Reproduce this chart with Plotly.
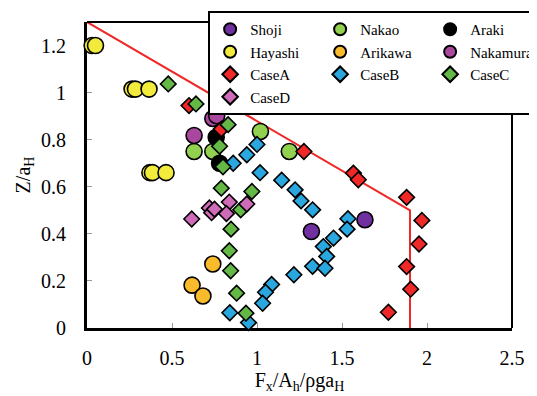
import plotly.graph_objects as go

# ---- data ----
shoji_x = [1.32, 1.635]
shoji_y = [0.41, 0.46]

nakao_x = [0.63, 0.74, 1.02, 1.19]
nakao_y = [0.75, 0.75, 0.835, 0.75]

araki_x = [0.76, 0.78]
araki_y = [0.81, 0.70]

hayashi_x = [0.03, 0.05, 0.265, 0.285, 0.365, 0.37, 0.385, 0.465]
hayashi_y = [1.2, 1.2, 1.015, 1.015, 1.015, 0.66, 0.66, 0.66]

arikawa_x = [0.74, 0.618, 0.682]
arikawa_y = [0.272, 0.182, 0.136]

nakamura_x = [0.63, 0.74, 0.763]
nakamura_y = [0.818, 0.89, 0.902]

caseA_x = [0.60, 0.79, 1.276, 1.567, 1.596, 1.88, 1.97, 1.953, 1.88, 1.904, 1.773]
caseA_y = [0.945, 0.845, 0.75, 0.658, 0.63, 0.555, 0.457, 0.357, 0.261, 0.165, 0.067]

caseB_x = [0.86, 0.94, 1.0, 1.018, 1.145, 1.224, 1.259, 1.327, 1.535, 1.53, 1.45,
           1.39, 1.41, 1.327, 1.40, 1.217, 1.086, 1.05, 1.033, 0.84, 0.95]
caseB_y = [0.70, 0.736, 0.78, 0.66, 0.628, 0.587, 0.54, 0.502, 0.464, 0.42, 0.382,
           0.346, 0.304, 0.262, 0.254, 0.226, 0.185, 0.152, 0.105, 0.065, 0.023]

caseC_x = [0.478, 0.641, 0.83, 0.78, 0.80, 0.79, 0.97, 0.904, 0.847, 0.837, 0.845, 0.88, 0.935]
caseC_y = [1.037, 0.952, 0.864, 0.772, 0.685, 0.594, 0.58, 0.502, 0.42, 0.328, 0.243, 0.148, 0.063]

caseD_x = [0.616, 0.72, 0.733, 0.75, 0.837, 0.82, 0.94]
caseD_y = [0.463, 0.51, 0.49, 0.505, 0.535, 0.486, 0.527]

limit_x = [0.0, 1.9, 1.9]
limit_y = [1.3, 0.5, 0.0]

x_ticks = [0, 0.5, 1, 1.5, 2, 2.5]
y_ticks = [0, 0.2, 0.4, 0.6, 0.8, 1, 1.2]

FONT = "Times New Roman, Liberation Serif, Tinos, DejaVu Serif, serif"

fig = go.Figure()

fig.add_trace(go.Scatter(x=limit_x, y=limit_y, mode="lines",
                         line=dict(color="#F02828", width=2),
                         showlegend=False, hoverinfo="skip", cliponaxis=False))

series = [
    ("Shoji", shoji_x, shoji_y, "circle", "#7030A0", 16),
    ("Nakao", nakao_x, nakao_y, "circle", "#92D050", 16),
    ("Araki", araki_x, araki_y, "circle", "#000000", 16),
    ("Hayashi", hayashi_x, hayashi_y, "circle", "#F3EB3B", 16),
    ("Arikawa", arikawa_x, arikawa_y, "circle", "#F9BA2B", 16),
    ("Nakamura", nakamura_x, nakamura_y, "circle", "#A9479F", 16),
    ("CaseA", caseA_x, caseA_y, "diamond", "#F02828", 12),
    ("CaseB", caseB_x, caseB_y, "diamond", "#2AA7DF", 12),
    ("CaseC", caseC_x, caseC_y, "diamond", "#63B846", 12),
    ("CaseD", caseD_x, caseD_y, "diamond", "#CF6CB9", 12),
]
for name, xs, ys, sym, col, sz in series:
    fig.add_trace(go.Scatter(
        x=xs, y=ys, mode="markers", name=name, cliponaxis=False,
        marker=dict(symbol=sym, color=col, size=sz,
                    line=dict(color="black", width=1.6))))

axis_common = dict(
    showgrid=False, zeroline=False, showline=True, linecolor="black", linewidth=3,
    ticks="inside", ticklen=5, tickcolor="#999999", tickwidth=1,
    tickfont=dict(family=FONT, size=20, color="black"),
    layer="below traces", mirror=False,
)

fig.update_xaxes(range=[0, 2.5], tickvals=x_ticks, ticklabelstandoff=10,
                 title=dict(text="F<sub>x</sub>/A<sub>h</sub>/ρga<sub>H</sub>",
                            font=dict(family=FONT, size=20, color="black"), standoff=1),
                 **axis_common)
fig.update_yaxes(range=[0, 1.3], tickvals=y_ticks, ticklabelstandoff=14,
                 title=dict(text="Z/a<sub>H</sub>",
                            font=dict(family=FONT, size=20, color="black"), standoff=6),
                 **axis_common)

# page body has an 8px margin; the figure is sized/offset so the plot box lands where the reference has it
fig.update_layout(
    width=529, height=388,
    margin=dict(l=79, r=25, t=14, b=68, autoexpand=False),
    paper_bgcolor="white", plot_bgcolor="white",
    font=dict(family=FONT, color="black"),
    showlegend=True,
    legend=dict(orientation="h", x=0.285, y=1.036, xanchor="left", yanchor="top",
                entrywidth=65, entrywidthmode="pixels",
                bgcolor="white", bordercolor="black", borderwidth=2,
                font=dict(family=FONT, size=15, color="black"),
                itemsizing="constant", traceorder="normal"),
    shapes=[
        dict(type="line", xref="paper", yref="paper", x0=0, x1=1, y0=1, y1=1,
             line=dict(color="black", width=2)),
        dict(type="line", xref="paper", yref="paper", x0=1, x1=1, y0=0, y1=1,
             line=dict(color="black", width=2)),
    ],
)

fig.write_html("out.html")
